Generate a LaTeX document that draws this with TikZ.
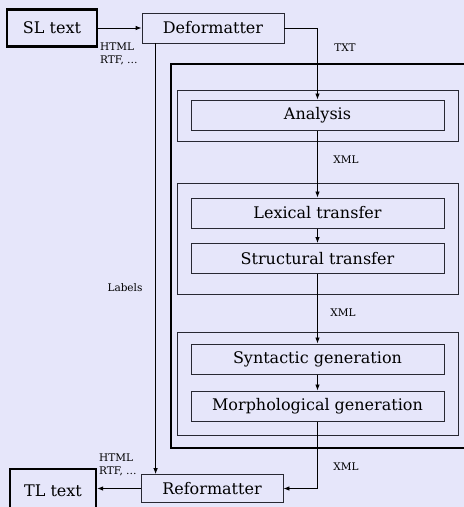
\documentclass[tikz,border=0pt]{standalone}
\usepackage{fontspec}
\setmainfont{DejaVu Serif}
\usepackage{xcolor}
\usetikzlibrary{arrows.meta, positioning}
\definecolor{bgcol}{RGB}{230,230,250}
\definecolor{edgecol}{RGB}{40,40,50}

\begin{document}
\begin{tikzpicture}[x=1pt, y=-1pt, >=Latex]
        % Stijlen
        \tikzstyle{io} = [rectangle, minimum width=90pt, minimum height=37pt, text centered, draw=black, line width=2.4pt, font=\fontsize{16}{18}\selectfont]
        \tikzstyle{format} = [rectangle, minimum width=142pt, minimum height=30pt, text centered, draw=edgecol, line width=0.8pt, font=\fontsize{16}{18}\selectfont]
        \tikzstyle{stage} = [rectangle, minimum width=253pt, minimum height=30pt, text centered, draw=edgecol, line width=1pt, font=\fontsize{16}{18}\selectfont]
        \tikzstyle{group} = [rectangle, minimum width=281pt, draw=edgecol, line width=1pt]
        \tikzstyle{tag} = [font=\fontsize{10.5}{13}\selectfont, align=left, inner sep=0pt]
        \tikzstyle{arrow} = [line width=0.8pt, ->, >={Latex[length=6pt, width=4.5pt]}]

        % Achtergrond
        \fill[bgcol] (0,0) rectangle (464,507);
        \useasboundingbox (0,0) rectangle (464,507);

        % Kaders
        \node (core) [rectangle, draw=black, line width=2.6pt, minimum width=300pt, minimum height=384pt] at (321,256) {};
        \node (anagrp) [group, minimum height=51pt] at (318,115.5) {};
        \node (trgrp) [group, minimum height=111pt] at (318,238.5) {};
        \node (gengrp) [group, minimum height=103pt] at (318,383.5) {};

        % Knopen plaatsen
        \node (sl) [io] at (52,28) {SL text};
        \node (def) [format] at (213,28) {Deformatter};
        \node (ana) [stage] at (317.5,115) {Analysis};
        \node (lex) [stage] at (317.5,213) {Lexical transfer};
        \node (str) [stage] at (317.5,258.5) {Structural transfer};
        \node (syn) [stage] at (317.5,359) {Syntactic generation};
        \node (mor) [stage] at (317.5,406) {Morphological generation};
        \node (ref) [format, minimum height=28pt] at (212,488.5) {Reformatter};
        \node (tl) [io, minimum width=86pt, minimum height=44pt] at (53,491) {TL text};

        % Pijlen tekenen
        \draw [arrow] (sl) -- (def);
        \draw [arrow] (def.east) -| (ana.north);
        \draw [arrow] (ana) -- (lex);
        \draw [arrow] (lex) -- (str);
        \draw [arrow] (str) -- (syn);
        \draw [arrow] (syn) -- (mor);
        \draw [arrow] (mor.south) |- (ref.east);
        \draw [arrow] (ref.west) -- (tl.east |- ref.west);
        \draw [arrow] (def.south west) ++(14,0) coordinate (lbl) -- (lbl |- ref.north);

        % Labels
        \node (fmtin) [tag, anchor=north west] at (100,43) {HTML\\RTF, \dots};
        \node (fmtout) [tag, anchor=south west] at (99,476) {HTML\\RTF, \dots};
        \node (txt) [tag] at (345,48) {TXT};
        \node (xmla) [tag] at (346,160) {XML};
        \node (xmlb) [tag] at (343,313) {XML};
        \node (xmlc) [tag] at (346,467) {XML};
        \node (labels) [tag] at (125,288) {Labels};

    \end{tikzpicture}
\end{document}
